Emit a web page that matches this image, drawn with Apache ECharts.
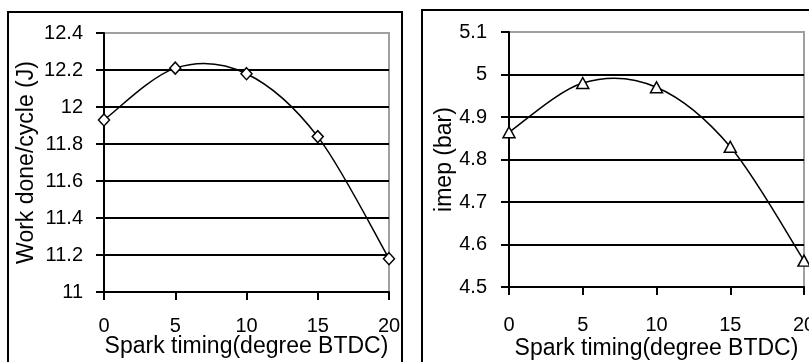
<!DOCTYPE html>
<html>
<head>
<meta charset="utf-8">
<script src="https://cdn.jsdelivr.net/npm/echarts@6/dist/echarts.min.js"></script>
<style>
html,body{margin:0;padding:0;background:#fff;}
#c{width:809px;height:362px;}
</style>
</head>
<body>
<div id="c"></div>
<script>
var sparkTiming = [0, 5, 10, 15, 20];
var workDone = [11.93, 12.21, 12.18, 11.84, 11.18];
var imep = [4.864, 4.98, 4.97, 4.83, 4.562];
var xTitle = 'Spark timing(degree BTDC)';
var yTitleLeft = 'Work done/cycle (J)';
var yTitleRight = 'imep (bar)';

var FONT = '"Liberation Sans", Arial, sans-serif';
function pairs(xs, ys){ return xs.map(function(x,i){ return [x, ys[i]]; }); }

// Smoothed (Catmull-Rom style, like a spreadsheet "smoothed line") segment between data points,
// positioned through the chart's own coordinate system.
function smoothSegment(xs, ys){
  return function(params, api){
    var i = params.dataIndex;
    if (i >= xs.length - 1) return null;
    function c(k){ k = Math.max(0, Math.min(xs.length - 1, k)); return api.coord([xs[k], ys[k]]); }
    var p0 = c(i - 1), p1 = c(i), p2 = c(i + 1), p3 = c(i + 2);
    var t = 1 / 6;
    var cp1 = [p1[0] + (p2[0] - p0[0]) * t, p1[1] + (p2[1] - p0[1]) * t];
    var cp2 = [p2[0] - (p3[0] - p1[0]) * t, p2[1] - (p3[1] - p1[1]) * t];
    return {
      type: 'bezierCurve',
      shape: {x1: p1[0], y1: p1[1], x2: p2[0], y2: p2[1], cpx1: cp1[0], cpy1: cp1[1], cpx2: cp2[0], cpy2: cp2[1]},
      style: {stroke: '#000', lineWidth: 1.5, fill: 'none'}
    };
  };
}

function xAxisFor(gi, labelMargin, nameGap){
  return {
    gridIndex: gi, type: 'value', min: 0, max: 20, interval: 5,
    name: xTitle, nameLocation: 'middle', nameGap: nameGap, nameMoveOverlap: false,
    nameTextStyle: {color: '#000', fontFamily: FONT, fontSize: 23},
    axisLine: {show: true, lineStyle: {color: '#000', width: 2}},
    axisTick: {show: true, inside: false, length: 8, lineStyle: {color: '#000', width: 2}},
    axisLabel: {color: '#000', fontFamily: FONT, fontSize: 20, margin: labelMargin},
    splitLine: {show: false}
  };
}
function yAxisFor(gi, min, max, interval, name, nameGap, labelMargin){
  return {
    gridIndex: gi, type: 'value', min: min, max: max, interval: interval,
    name: name, nameLocation: 'middle', nameGap: nameGap, nameMoveOverlap: false,
    nameTextStyle: {color: '#000', fontFamily: FONT, fontSize: 23},
    axisLine: {show: true, lineStyle: {color: '#000', width: 2}},
    axisTick: {show: true, inside: false, length: 8, lineStyle: {color: '#000', width: 2}},
    axisLabel: {color: '#000', fontFamily: FONT, fontSize: 20, margin: labelMargin},
    splitLine: {show: true, showMinLine: false, showMaxLine: false, lineStyle: {color: '#000', width: 2}}
  };
}

var chart = echarts.init(document.getElementById('c'), null, {renderer: 'canvas'});
chart.setOption({
  backgroundColor: '#fff',
  animation: false,
  graphic: [
    {type: 'rect', shape: {x: 8, y: 12, width: 394, height: 420}, style: {fill: 'none', stroke: '#000', lineWidth: 2}, z: 0},
    {type: 'rect', shape: {x: 422, y: 10, width: 500, height: 420}, style: {fill: 'none', stroke: '#000', lineWidth: 2}, z: 0}
  ],
  grid: [
    {left: 104, right: 420, top: 33, bottom: 70, containLabel: false, outerBoundsMode: 'none',
     show: true, borderColor: '#a0a0a0', borderWidth: 2, backgroundColor: 'transparent'},
    {left: 509, right: 5, top: 32, bottom: 75, containLabel: false, outerBoundsMode: 'none',
     show: true, borderColor: '#a0a0a0', borderWidth: 2, backgroundColor: 'transparent'}
  ],
  xAxis: [xAxisFor(0, 24, 43), xAxisFor(1, 28, 50)],
  yAxis: [
    yAxisFor(0, 11, 12.4, 0.2, yTitleLeft, 66, 21),
    yAxisFor(1, 4.5, 5.1, 0.1, yTitleRight, 53, 22)
  ],
  series: [
    {type: 'custom', xAxisIndex: 0, yAxisIndex: 0, data: pairs(sparkTiming, workDone),
     renderItem: smoothSegment(sparkTiming, workDone), z: 2},
    {type: 'custom', xAxisIndex: 1, yAxisIndex: 1, data: pairs(sparkTiming, imep),
     renderItem: smoothSegment(sparkTiming, imep), z: 2},
    {type: 'scatter', xAxisIndex: 0, yAxisIndex: 0, data: pairs(sparkTiming, workDone),
     symbol: 'diamond', symbolSize: [11, 12], z: 3,
     itemStyle: {color: '#fff', borderColor: '#000', borderWidth: 1.5, opacity: 1}},
    {type: 'scatter', xAxisIndex: 1, yAxisIndex: 1, data: pairs(sparkTiming, imep),
     symbol: 'triangle', symbolSize: [12, 11], z: 3,
     itemStyle: {color: '#fff', borderColor: '#000', borderWidth: 1.5, opacity: 1}}
  ]
});
</script>
</body>
</html>
